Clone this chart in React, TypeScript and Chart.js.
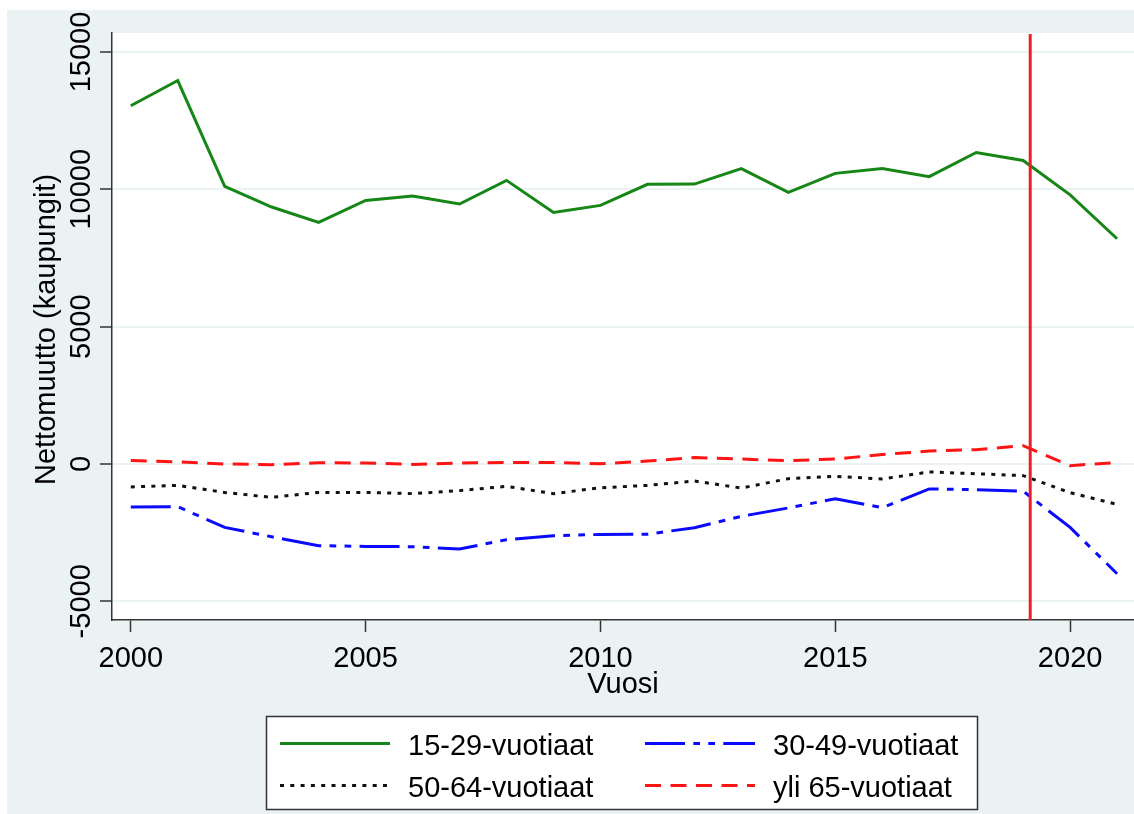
import React, { useEffect, useRef } from "react";
import { Chart, registerables } from "chart.js";

Chart.register(...registerables);

const years = [2000, 2001, 2002, 2003, 2004, 2005, 2006, 2007, 2008, 2009, 2010, 2011, 2012, 2013, 2014, 2015, 2016, 2017, 2018, 2019, 2020, 2021];
const age15to29 = [13040, 13960, 10105, 9355, 8795, 9595, 9755, 9465, 10325, 9160, 9415, 10180, 10190, 10750, 9885, 10580, 10760, 10460, 11340, 11050, 9800, 8200];
const age30to49 = [-1565, -1555, -2310, -2650, -2975, -3000, -3010, -3095, -2755, -2610, -2565, -2555, -2320, -1905, -1600, -1265, -1590, -910, -935, -990, -2310, -3995];
const age50to64 = [-835, -780, -1035, -1215, -1035, -1035, -1080, -970, -815, -1080, -865, -780, -620, -875, -535, -450, -545, -290, -355, -425, -1045, -1470];
const age65plus = [130, 75, 0, -25, 45, 35, -15, 35, 55, 55, 10, 105, 235, 180, 120, 180, 345, 470, 520, 665, -60, 55];

const seriesLabels = ["15-29-vuotiaat", "30-49-vuotiaat", "50-64-vuotiaat", "yli 65-vuotiaat"];
const xTickValues = [2000, 2005, 2010, 2015, 2020];
const yTickValues = [-5000, 0, 5000, 10000, 15000];
const cutoffYear = 2019.15;
const xTitle = "Vuosi";
const yTitle = "Nettomuutto (kaupungit)";

const FONT = '"Liberation Sans", Arial, Helvetica, sans-serif';
const BG = "rgb(234,242,243)";
const AXIS = "#333333";
const GREEN = "rgb(22,134,22)";
const BLUE = "rgb(10,10,255)";
const BLACK = "#111111";
const RED = "rgb(255,20,20)";

const styles = [
  { color: GREEN, dash: [] as number[] },
  { color: BLUE, dash: [40, 8.3, 6.7, 8.3, 6.7, 8.3] },
  { color: BLACK, dash: [4, 6.3] },
  { color: RED, dash: [16, 9.5] },
];

export default function App() {
  const ref = useRef<HTMLCanvasElement | null>(null);

  useEffect(() => {
    document.body.style.margin = "0";
    const canvas = ref.current;
    if (!canvas) return;
    const seriesData = [age15to29, age30to49, age50to64, age65plus];

    const decor = {
      id: "decor",
      beforeDraw(chart: any) {
        const { ctx, width, height, chartArea } = chart;
        ctx.save();
        ctx.fillStyle = "#ffffff";
        ctx.fillRect(0, 0, width, height);
        ctx.fillStyle = BG;
        ctx.fillRect(7, 10, width - 7, height - 10);
        ctx.fillStyle = "#ffffff";
        ctx.fillRect(chartArea.left, chartArea.top, chartArea.right - chartArea.left, chartArea.bottom - chartArea.top);
        ctx.restore();
      },
      afterDatasetsDraw(chart: any) {
        const { ctx, chartArea, scales } = chart;
        const xs = scales.x;
        const ys = scales.y;
        ctx.save();
        // vertical cutoff line
        const cx = xs.getPixelForValue(cutoffYear);
        ctx.strokeStyle = "rgb(235,30,40)";
        ctx.lineWidth = 3;
        ctx.beginPath();
        ctx.moveTo(cx, chartArea.top + 1);
        ctx.lineTo(cx, chartArea.bottom);
        ctx.stroke();
        ctx.restore();
      },
      afterDraw(chart: any) {
        const { ctx, chartArea, scales } = chart;
        const xs = scales.x;
        const ys = scales.y;
        ctx.save();
        ctx.fillStyle = "#000000";
        ctx.font = `29px ${FONT}`;
        // x tick labels
        ctx.textAlign = "center";
        ctx.textBaseline = "alphabetic";
        xTickValues.forEach((v) => {
          ctx.fillText(String(v), xs.getPixelForValue(v), 667);
        });
        // x title
        ctx.fillText(xTitle, (chartArea.left + chartArea.right) / 2, 693);
        // y tick labels (rotated)
        yTickValues.forEach((v) => {
          const py = ys.getPixelForValue(v);
          ctx.save();
          ctx.translate(90, py);
          ctx.rotate(-Math.PI / 2);
          ctx.textAlign = "center";
          ctx.textBaseline = "alphabetic";
          ctx.fillText(String(v), 0, 0);
          ctx.restore();
        });
        // y title
        ctx.save();
        ctx.translate(55, (chartArea.top + chartArea.bottom) / 2 + 3);
        ctx.rotate(-Math.PI / 2);
        ctx.textAlign = "center";
        ctx.fillText(yTitle, 0, 0);
        ctx.restore();

        // legend
        ctx.fillStyle = "#ffffff";
        ctx.fillRect(266, 716, 712, 94);
        ctx.strokeStyle = AXIS;
        ctx.lineWidth = 1.5;
        ctx.strokeRect(266.5, 716.5, 711, 93);
        const cols = [
          { sx: 280, ex: 390, tx: 408 },
          { sx: 645, ex: 755, tx: 773 },
        ];
        const rows = [
          { ly: 743.5, ty: 755 },
          { ly: 785.5, ty: 797 },
        ];
        seriesLabels.forEach((lab, i) => {
          const c = cols[i % 2];
          const r = rows[Math.floor(i / 2)];
          ctx.save();
          ctx.strokeStyle = styles[i].color;
          ctx.lineWidth = 3;
          ctx.setLineDash(styles[i].dash);
          ctx.beginPath();
          ctx.moveTo(c.sx, r.ly);
          ctx.lineTo(c.ex, r.ly);
          ctx.stroke();
          ctx.restore();
          ctx.fillStyle = "#000000";
          ctx.textAlign = "left";
          ctx.textBaseline = "alphabetic";
          ctx.font = `29px ${FONT}`;
          ctx.fillText(lab, c.tx, r.ty);
        });
        ctx.restore();
      },
    };

    const chart = new Chart(canvas, {
      type: "line",
      data: {
        datasets: seriesData.map((arr, i) => ({
          label: seriesLabels[i],
          data: years.map((yr, j) => ({ x: yr, y: arr[j] })),
          borderColor: styles[i].color,
          borderWidth: 3,
          borderDash: styles[i].dash,
          pointRadius: 0,
          tension: 0,
          fill: false,
        })),
      },
      options: {
        animation: false,
        responsive: false,
        devicePixelRatio: 1,
        events: [],
        layout: { padding: { left: 7, top: 33, right: 0, bottom: 0 } },
        plugins: { legend: { display: false }, tooltip: { enabled: false }, title: { display: false } },
        scales: {
          x: {
            type: "linear",
            min: 1999.6,
            max: 2021.36,
            afterBuildTicks: (s: any) => {
              s.ticks = xTickValues.map((v) => ({ value: v }));
            },
            afterFit: (s: any) => {
              s.height = 194;
            },
            grid: { drawOnChartArea: false, drawTicks: true, tickLength: 12, tickColor: AXIS, tickWidth: 1.5 },
            border: { display: true, color: AXIS, width: 1.5 },
            ticks: { display: false },
          },
          y: {
            type: "linear",
            min: -5680,
            max: 15690,
            afterBuildTicks: (s: any) => {
              s.ticks = yTickValues.map((v) => ({ value: v }));
            },
            afterFit: (s: any) => {
              s.width = 105;
            },
            grid: { color: BG, lineWidth: 2, drawTicks: true, tickLength: 12, tickColor: AXIS, tickWidth: 1.5 },
            border: { display: true, color: AXIS, width: 1.5 },
            ticks: { display: false },
          },
        },
      },
      plugins: [decor],
    } as any);

    return () => {
      chart.destroy();
    };
  }, []);

  return (
    <div style={{ position: "absolute", left: 0, top: 0, width: 1134, height: 814 }}>
      <canvas ref={ref} width={1134} height={814} style={{ display: "block", width: 1134, height: 814 }} />
    </div>
  );
}
